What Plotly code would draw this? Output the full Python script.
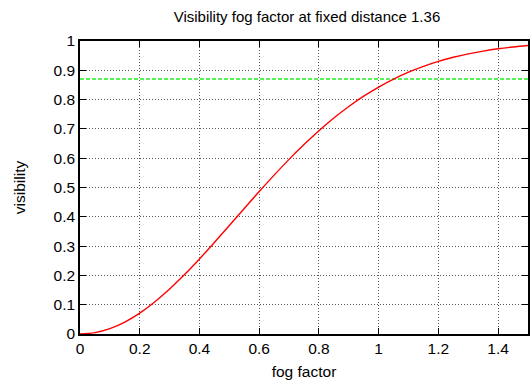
import plotly.graph_objects as go

fog_factor = [0.0, 0.05, 0.1, 0.15, 0.2, 0.25, 0.3, 0.35, 0.4, 0.45, 0.5, 0.55, 0.6, 0.65,
              0.7, 0.75, 0.8, 0.85, 0.9, 0.95, 1.0, 1.05, 1.1, 1.15, 1.2, 1.25, 1.3, 1.35,
              1.4, 1.45, 1.5]
visibility = [0.0, 0.0046, 0.0183, 0.0408, 0.0713, 0.1092, 0.1533, 0.2027, 0.2562, 0.3124,
              0.3703, 0.4285, 0.4862, 0.5423, 0.5960, 0.6467, 0.6938, 0.7372, 0.7764, 0.8116,
              0.8427, 0.8699, 0.8934, 0.9134, 0.9303, 0.9444, 0.9561, 0.9656, 0.9734, 0.9795,
              0.9844]
threshold = 0.87
x_ticks = [0, 0.2, 0.4, 0.6, 0.8, 1, 1.2, 1.4]
y_ticks = [0, 0.1, 0.2, 0.3, 0.4, 0.5, 0.6, 0.7, 0.8, 0.9, 1]

FONT = "Liberation Sans, Arial, sans-serif"

fig = go.Figure()
fig.add_trace(go.Scatter(x=[0, 1.5], y=[threshold, threshold], mode="lines",
                         line=dict(color="#22ee22", width=1.5, dash="4px,2px"), hoverinfo="skip"))
fig.add_trace(go.Scatter(x=fog_factor, y=visibility, mode="lines", line_shape="spline",
                         line=dict(color="#ff0000", width=1.4)))

axis_common = dict(showline=True, linecolor="black", linewidth=1.6, mirror="ticks",
                   ticks="inside", ticklen=6, tickcolor="black", tickwidth=1,
                   showgrid=True, gridcolor="#555", griddash="1px,2px", gridwidth=1,
                   zeroline=False, tickfont=dict(family=FONT, size=15.5, color="black"))

fig.update_layout(
    width=532, height=382,
    margin=dict(l=80, r=2, t=41, b=48),
    paper_bgcolor="white", plot_bgcolor="white",
    showlegend=False,
    title=dict(text="Visibility fog factor at fixed distance 1.36", x=0.577, xanchor="center",
               y=0.955, yanchor="middle", font=dict(family=FONT, size=15, color="black")),
    xaxis=dict(range=[0, 1.5], tickvals=x_ticks, ticktext=[str(t) for t in x_ticks],
               title=dict(text="fog factor", font=dict(family=FONT, size=15.5, color="black"), standoff=10),
               **axis_common),
    yaxis=dict(range=[0, 1], tickvals=y_ticks, ticktext=[str(t) for t in y_ticks],
               title=dict(text="visibility", font=dict(family=FONT, size=15.5, color="black"), standoff=24),
               **axis_common),
)

fig.write_html("out.html")
